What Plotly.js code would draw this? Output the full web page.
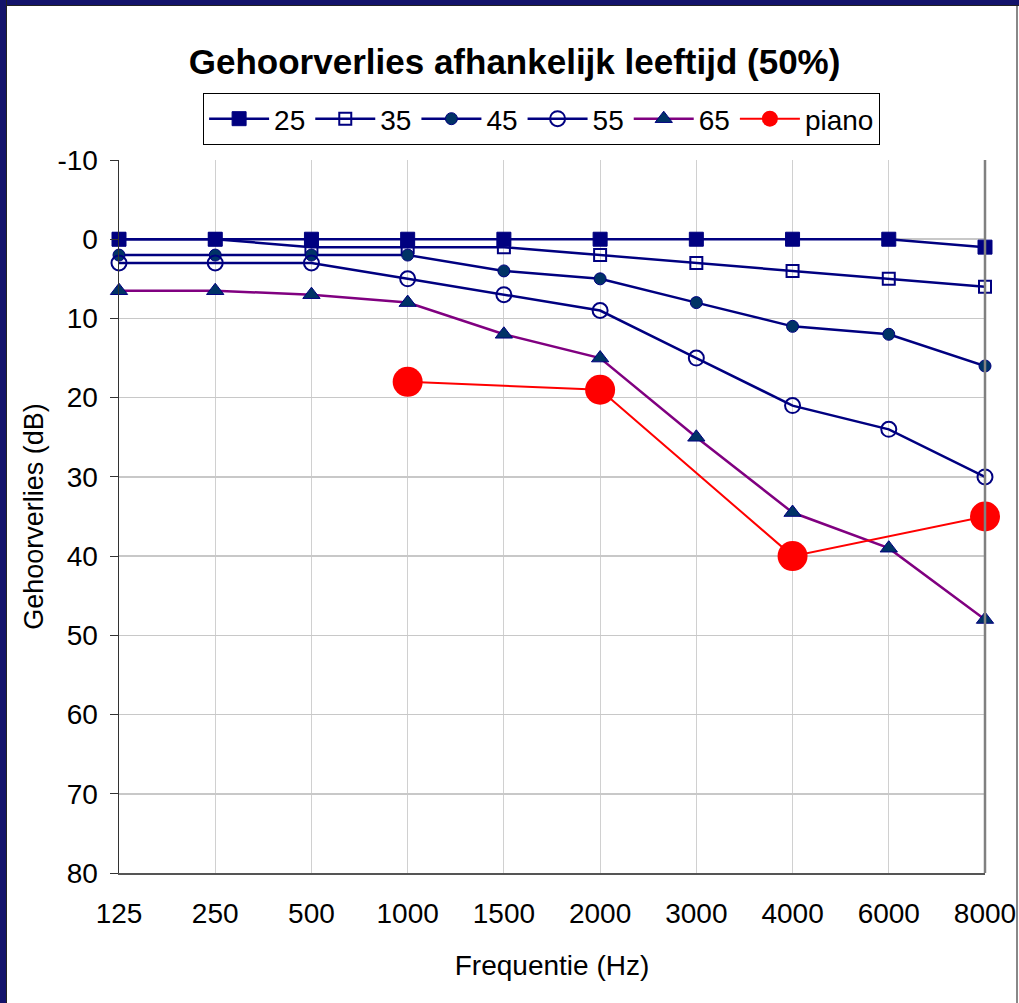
<!DOCTYPE html>
<html>
<head>
<meta charset="utf-8">
<script src="https://cdn.plot.ly/plotly-3.0.1.min.js"></script>
<style>
  html, body { margin: 0; padding: 0; background: #fff; }
  #wrap { position: relative; width: 1019px; height: 1003px; overflow: hidden; }
  #chart { position: absolute; left: 0; top: 0; width: 1019px; height: 1003px; }
  .edge { position: absolute; pointer-events: none; }
</style>
</head>
<body>
<div id="wrap">
  <div id="chart"></div>
  <div class="edge" style="left:0;top:0;width:1019px;height:5px;background:#13136b;border-bottom:1px solid #222;"></div>
  <div class="edge" style="left:0;top:0;width:6px;height:1003px;background:#13136b;border-right:1px solid #222;"></div>
  <div class="edge" style="left:1016px;top:6px;width:2px;height:997px;background:#888;"></div>
</div>
<script>
(function () {
  const frequencies = ["125", "250", "500", "1000", "1500", "2000", "3000", "4000", "6000", "8000"];
  const age25 = [0, 0, 0, 0, 0, 0, 0, 0, 0, 1];
  const age35 = [0, 0, 1, 1, 1, 2, 3, 4, 5, 6];
  const age45 = [2, 2, 2, 2, 4, 5, 8, 11, 12, 16];
  const age55 = [3, 3, 3, 5, 7, 9, 15, 21, 24, 30];
  const age65 = [6.5, 6.5, 7, 8, 12, 15, 25, 34.5, 39, 48];
  const piano = [null, null, null, 18, null, 19, null, 40, null, 35];
  const dbTicks = [-10, 0, 10, 20, 30, 40, 50, 60, 70, 80];
  const dbLabels = ["-10", "0", "10", "20", "30", "40", "50", "60", "70", "80"];

  const navy = "#000080";
  const font = "Arial, 'Liberation Sans', sans-serif";

  function series(name, values, line, marker, extra) {
    return Object.assign({
      type: "scatter",
      mode: "lines+markers",
      name: name,
      x: frequencies,
      y: values,
      line: line,
      marker: marker,
      cliponaxis: false
    }, extra || {});
  }

  const traces = [
    series("25", age25, { color: navy, width: 2.5 },
      { symbol: "square", size: 14, color: navy, line: { color: navy, width: 1 } }),
    series("35", age35, { color: navy, width: 2.5 },
      { symbol: "square-open", size: 12, color: navy, line: { color: navy, width: 2 } }),
    series("45", age45, { color: navy, width: 2.5 },
      { symbol: "circle", size: 12, color: "#003366", line: { color: navy, width: 1 } }),
    series("55", age55, { color: navy, width: 2.5 },
      { symbol: "circle-open", size: 15, color: navy, line: { color: navy, width: 2 } }),
    series("65", age65, { color: "#800080", width: 2.5 },
      { symbol: "triangle-up", size: 15, color: "#003366", line: { color: navy, width: 1 } }),
    series("piano", piano, { color: "#ff0000", width: 2 },
      { symbol: "circle", size: 30, color: "#ff0000" }, { connectgaps: true })
  ];

  const layout = {
    width: 1019,
    height: 1003,
    paper_bgcolor: "#ffffff",
    plot_bgcolor: "#ffffff",
    margin: { l: 119, r: 34, t: 160, b: 130 },
    font: { family: font, color: "#000", size: 28 },
    showlegend: true,
    title: {
      text: "<b>Gehoorverlies afhankelijk leeftijd (50%)</b>",
      font: { family: font, size: 35, color: "#000" },
      x: 0.505, xref: "container", xanchor: "center",
      y: 0.938, yref: "container", yanchor: "middle"
    },
    legend: {
      orientation: "h",
      x: 0.488, xanchor: "center",
      y: 1.094, yanchor: "top",
      bordercolor: "#000", borderwidth: 1,
      bgcolor: "#fff",
      font: { family: font, size: 28, color: "#000" },
      itemwidth: 60,
      tracegroupgap: 0
    },
    xaxis: {
      type: "category",
      range: [0, 9],
      showgrid: true,
      gridcolor: "#d0d0d0",
      gridwidth: 1,
      showline: true,
      linecolor: "#555",
      linewidth: 2,
      ticks: "",
      tickfont: { family: font, size: 28 },
      ticklabelstandoff: 14,
      title: { text: "Frequentie (Hz)", font: { family: font, size: 28 }, standoff: 28 },
      zeroline: false,
      fixedrange: true
    },
    yaxis: {
      range: [80, -10],
      tickmode: "array",
      tickvals: dbTicks,
      ticktext: dbLabels,
      showgrid: true,
      gridcolor: "#c8c8c8",
      gridwidth: 1.5,
      showline: true,
      linecolor: "#333",
      linewidth: 1.5,
      ticks: "outside",
      ticklen: 8,
      tickcolor: "#333",
      tickfont: { family: font, size: 28 },
      ticklabelstandoff: 6,
      title: { text: "Gehoorverlies (dB)", font: { family: font, size: 27 }, standoff: 6 },
      zeroline: false,
      fixedrange: true
    },
    shapes: [
      { type: "line", xref: "paper", yref: "paper", x0: 1, x1: 1, y0: 0, y1: 1,
        line: { color: "#808080", width: 2.5 } }
    ]
  };

  Plotly.newPlot("chart", traces, layout, { displayModeBar: false, staticPlot: true });
})();
</script>
</body>
</html>
